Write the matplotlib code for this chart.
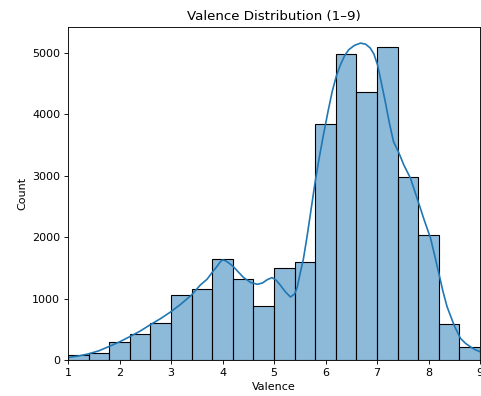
import numpy as np
import matplotlib.pyplot as plt

# histogram counts, 20 bins of width 0.4 from 1 to 9
bin_left = [1.0, 1.4, 1.8, 2.2, 2.6, 3.0, 3.4, 3.8, 4.2, 4.6,
            5.0, 5.4, 5.8, 6.2, 6.6, 7.0, 7.4, 7.8, 8.2, 8.6]
counts = [75, 110, 288, 418, 597, 1059, 1156, 1650, 1314, 874,
          1493, 1601, 3844, 4979, 4365, 5098, 2980, 2036, 581, 212]

# KDE curve (scaled to counts)
kde_x = [1.0, 1.2, 1.39, 1.6, 1.82, 2.0, 2.2, 2.4, 2.59, 2.8, 3.0, 3.2, 3.4, 3.57,
         3.70, 3.81, 3.89, 3.95, 4.0, 4.06, 4.13, 4.21, 4.31, 4.41, 4.55, 4.68,
         4.78, 4.86, 4.96, 5.04, 5.12, 5.22, 5.32, 5.40, 5.45, 5.51, 5.57,
         5.64, 5.72, 5.80, 5.88, 5.96, 6.05, 6.13, 6.21, 6.29, 6.37, 6.45,
         6.56, 6.68, 6.78, 6.87, 6.94, 7.01, 7.08, 7.16, 7.24, 7.32, 7.42,
         7.52, 7.65, 7.81, 7.92, 8.04, 8.12, 8.2, 8.28, 8.36, 8.5, 8.62,
         8.72, 8.81, 8.9, 9.0]
kde_y = [40, 65, 98, 150, 228, 295, 380, 470, 570, 675, 787, 915, 1059, 1221,
         1314, 1438, 1520, 1590, 1629, 1615, 1575, 1520, 1430, 1341, 1260, 1232,
         1255, 1303, 1341, 1300, 1221, 1110, 1025, 1075, 1180, 1420, 1640,
         2000, 2450, 2904, 3300, 3664, 4050, 4370, 4620, 4805, 4950, 5049,
         5120, 5158, 5140, 5077, 4980, 4805, 4530, 4207, 3860, 3556, 3380,
         3176, 2959, 2552, 2270, 1982, 1700, 1412, 1120, 868, 560, 353,
         270, 217, 170, 135]

DPI = 80
fig = plt.figure(figsize=(481 / DPI, 396 / DPI), dpi=DPI)
ax = fig.add_axes([68 / 481, 36 / 396, 412 / 481, 333 / 396])

ax.bar(bin_left, counts, width=0.4, align='edge',
       facecolor=(0.122, 0.467, 0.706, 0.5), edgecolor='black', linewidth=1)
ax.plot(kde_x, kde_y, color='#1f77b4', linewidth=1.5)

ax.set_xlim(1, 9)
ax.set_ylim(0, 5420)
ax.set_xticks(range(1, 10))
ax.set_yticks([0, 1000, 2000, 3000, 4000, 5000])
ax.set_title("Valence Distribution (1\u20139)")
ax.set_xlabel("Valence")
ax.set_ylabel("Count")

fig.savefig("out.png", dpi=DPI)
